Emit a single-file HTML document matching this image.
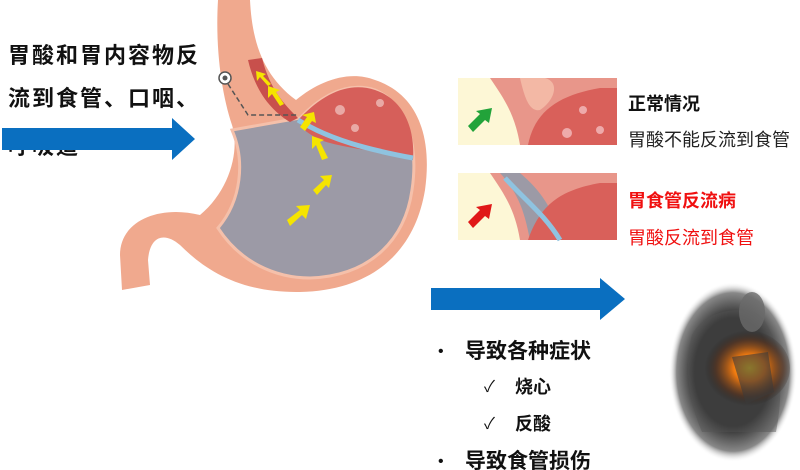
<!DOCTYPE html>
<html><head><meta charset="utf-8"><style>
html,body{margin:0;padding:0;background:#fff;width:800px;height:470px;overflow:hidden}
svg{display:block}
text{font-family:"Liberation Sans","Noto Sans CJK SC",sans-serif}
</style></head><body>
<svg width="800" height="470" viewBox="0 0 800 470" xmlns="http://www.w3.org/2000/svg">
<defs>
<radialGradient id="glow" cx="0.55" cy="0.5" r="0.5">
<stop offset="0" stop-color="#ffd21a"/><stop offset="0.35" stop-color="#f07a10"/><stop offset="0.75" stop-color="#5a3018" stop-opacity="0.6"/><stop offset="1" stop-color="#1a1a1a" stop-opacity="0"/>
</radialGradient>
<radialGradient id="oval" cx="0.5" cy="0.5" r="0.5">
<stop offset="0.6" stop-color="#2a2a2a"/><stop offset="0.88" stop-color="#888"/><stop offset="1" stop-color="#fff" stop-opacity="0"/>
</radialGradient>
</defs>

<path d="M218,0 L250,0 C252,40 262,75 296,100 C320,80 350,70 375,80 C420,95 432,140 425,190 C415,250 375,290 300,292 C240,293 205,270 180,245 C165,232 150,235 148,260 L150,285 L122,290 L120,255 C120,220 160,205 200,215 C230,190 240,150 232,125 C222,95 215,50 218,0 Z" fill="#f0a98e"/>
<path d="M232,130 C245,160 242,200 218,228 C240,262 275,278 310,278 C370,276 405,240 412,190 C418,150 410,105 375,90 C350,82 325,92 300,118 Z" fill="#9c9aa6" stroke="#f5c0aa" stroke-width="3"/>
<path d="M300,118 C325,92 350,82 375,90 C405,100 415,130 413,160 C380,150 350,150 320,140 C305,132 298,126 300,118 Z" fill="#d65f5a"/>
<path d="M298,120 C330,140 370,150 413,158" stroke="#8fc3e0" stroke-width="5" fill="none"/>
<path d="M248,60 L262,58 C270,90 285,105 298,118 L290,122 C270,110 255,90 248,60 Z" fill="#c8504c"/>
<circle cx="340" cy="110" r="5" fill="#e9a9a5"/><circle cx="380" cy="103" r="4" fill="#e9a9a5"/><circle cx="355" cy="128" r="4" fill="#e9a9a5"/>
<g fill="#f5e400">
<polygon points="287,220 300,210 296,206 310,205 306,219 302,215 290,226"/>
<polygon points="313,190 324,180 320,176 332,175 329,188 326,185 317,195"/>
<polygon points="322,160 316,145 312,149 312,136 324,140 320,142 328,158"/>
<polygon points="300,127 307,117 302,115 314,112 316,123 312,121 305,131"/>
<polygon points="280,106 272,94 268,98 268,86 280,90 276,92 284,104"/>
<polygon points="268,86 260,77 257,81 256,71 266,74 263,76 271,84"/>
</g>
<circle cx="225" cy="78" r="6" fill="#fff" stroke="#555" stroke-width="1.5"/><circle cx="225" cy="78" r="2.5" fill="#555"/>
<path d="M228,84 L248,115 L298,115" stroke="#555" stroke-width="1.5" stroke-dasharray="5,3" fill="none"/>

<text x="8" y="63" font-size="22" font-weight="bold" fill="#111" letter-spacing="2">胃酸和胃内容物反</text>
<text x="8" y="106" font-size="22" font-weight="bold" fill="#111" letter-spacing="2">流到食管、口咽、</text>
<text x="8" y="154" font-size="22" font-weight="bold" fill="#111" letter-spacing="2">呼吸道</text>
<polygon points="2,128 172,128 172,118 195,139 172,160 172,150 2,150" fill="#0a6fc0"/>

<rect x="458" y="78" width="159" height="67" fill="#fdf7d6"/>
<path d="M490,78 C505,100 515,115 520,145 L617,145 L617,78 Z" fill="#e8968a"/>
<path d="M520,78 L545,78 C560,82 555,100 540,110 C530,112 525,100 520,78Z" fill="#f3b8a5"/>
<path d="M528,145 C535,110 560,95 600,88 L617,88 L617,145 Z" fill="#d9605a"/>
<circle cx="583" cy="110" r="4" fill="#eaa"/><circle cx="567" cy="133" r="5" fill="#eaa"/><circle cx="600" cy="130" r="4" fill="#eaa"/>
<polygon points="468,126 480,114 476,111 492,108 489,123 485,120 473,132" fill="#22a33a"/>

<rect x="458" y="173" width="159" height="67" fill="#fdf7d6"/>
<path d="M490,173 C505,195 515,210 520,240 L617,240 L617,173 Z" fill="#e8968a"/>
<path d="M500,173 C520,195 525,215 530,240 L560,240 C555,210 540,190 520,173 Z" fill="#9c9aa6"/>
<path d="M528,240 C540,205 560,190 600,183 L617,183 L617,240 Z" fill="#d9605a"/>
<path d="M505,178 C525,200 545,215 560,240" stroke="#8fc3e0" stroke-width="5" fill="none"/>
<polygon points="468,222 480,210 476,207 492,204 489,219 485,216 473,228" fill="#e01818"/>

<text x="628" y="110" font-size="18" font-weight="bold" fill="#111">正常情况</text>
<text x="628" y="146" font-size="18" fill="#222">胃酸不能反流到食管</text>
<text x="628" y="207" font-size="18" font-weight="bold" fill="#f01010">胃食管反流病</text>
<text x="628" y="244" font-size="18" fill="#f01010">胃酸反流到食管</text>

<polygon points="431,288 600,288 600,278 625,299 600,320 600,310 431,310" fill="#0a6fc0"/>

<text x="438" y="356" font-size="16" fill="#111">•</text>
<text x="465" y="358" font-size="21" font-weight="bold" fill="#111">导致各种症状</text>
<text x="484" y="392" font-size="16" fill="#111">✓</text>
<text x="515" y="393" font-size="18" font-weight="bold" fill="#111">烧心</text>
<text x="484" y="429" font-size="16" fill="#111">✓</text>
<text x="515" y="430" font-size="18" font-weight="bold" fill="#111">反酸</text>
<text x="438" y="466" font-size="16" fill="#111">•</text>
<text x="465" y="468" font-size="21" font-weight="bold" fill="#111">导致食管损伤</text>

<ellipse cx="733" cy="372" rx="64" ry="90" fill="url(#oval)"/>
<path d="M692,335 C705,310 740,305 760,315 C778,335 786,380 776,432 L702,432 C688,400 684,365 692,335 Z" fill="#555" opacity="0.45"/>
<ellipse cx="745" cy="368" rx="45" ry="38" fill="url(#glow)"/>
<ellipse cx="752" cy="312" rx="13" ry="20" fill="#6a6a6a" opacity="0.8"/>
<path d="M732,357 L768,352 L774,392 L746,404 Z" fill="#3a3a3a" opacity="0.6"/>
</svg>
</body></html>
